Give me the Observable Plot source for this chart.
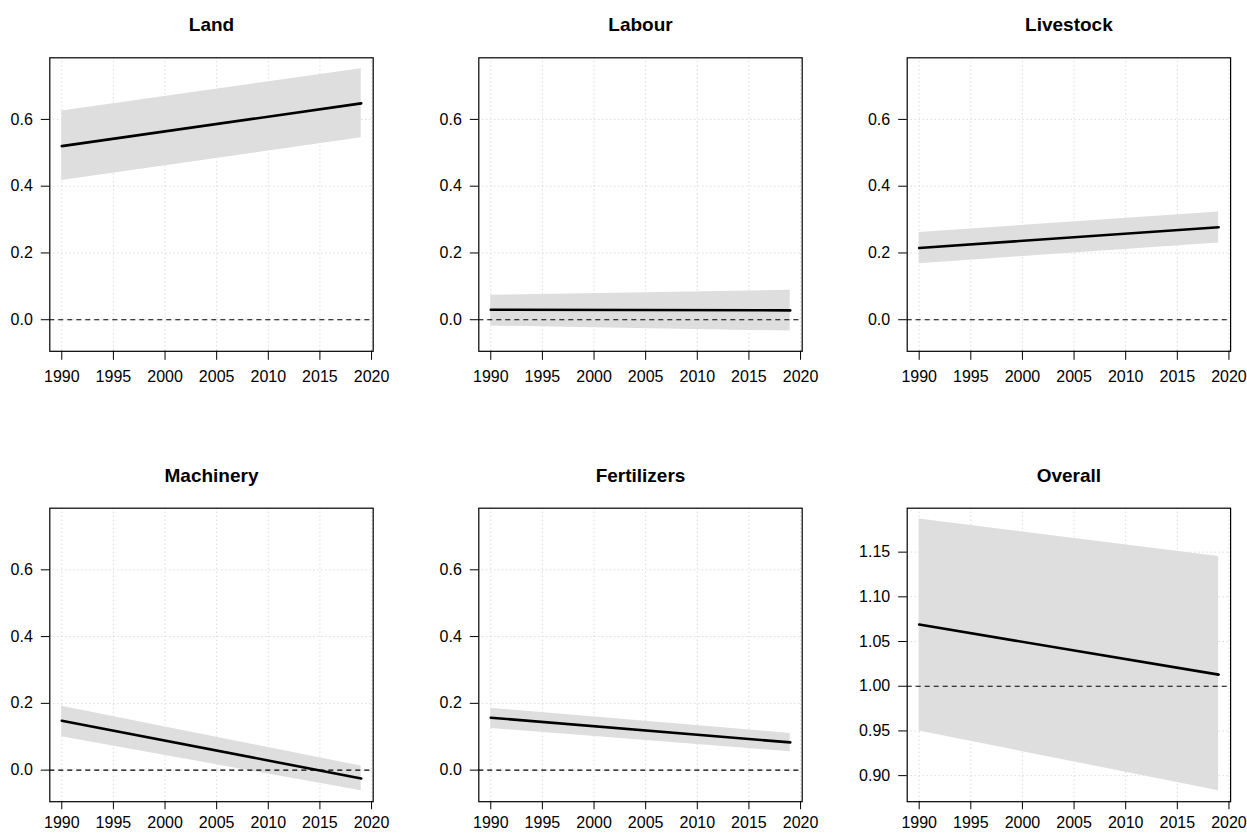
<!DOCTYPE html>
<html><head><meta charset="utf-8">
<script src="https://cdn.jsdelivr.net/npm/d3@7"></script>
<script src="https://cdn.jsdelivr.net/npm/@observablehq/plot@0.6"></script>
<style>
html,body{margin:0;padding:0;background:#fff;overflow:hidden;}
#chart{position:relative;width:1247px;height:833px;overflow:hidden;background:#fff;}
#chart svg{position:absolute;left:0;top:0;}
</style></head><body><div id="chart"></div>
<script>
// ---- data ----
const panels = ["Land", "Labour", "Livestock", "Machinery", "Fertilizers", "Overall"];
const years = [1990, 2019];
const fitValues = {
  Land: [0.520, 0.648],
  Labour: [0.030, 0.028],
  Livestock: [0.215, 0.277],
  Machinery: [0.148, -0.025],
  Fertilizers: [0.157, 0.083],
  Overall: [1.069, 1.013]
};
const lowerValues = {
  Land: [0.417, 0.545],
  Labour: [-0.019, -0.034],
  Livestock: [0.168, 0.230],
  Machinery: [0.100, -0.062],
  Fertilizers: [0.125, 0.055],
  Overall: [0.950, 0.883]
};
const upperValues = {
  Land: [0.625, 0.752],
  Labour: [0.073, 0.088],
  Livestock: [0.261, 0.323],
  Machinery: [0.191, 0.012],
  Fertilizers: [0.185, 0.110],
  Overall: [1.187, 1.145]
};
const refValues = {Land: 0, Labour: 0, Livestock: 0, Machinery: 0, Fertilizers: 0, Overall: 1};
const xTicks = [1990, 1995, 2000, 2005, 2010, 2015, 2020];
const yTicksShared = [0.0, 0.2, 0.4, 0.6];
const yTicksOverall = [0.90, 0.95, 1.00, 1.05, 1.10, 1.15];

// ---- layout ----
const W = 1247, H = 833;
const colLeft = [49.3, 478.3, 906.7];
const rowTop = [57.3, 507.7];
const boxW = 323.4, boxH = 293.5;

function rExtend([a, b]) { const d = (b - a) * 0.04; return [a - d, b + d]; }
const sharedPanels = panels.slice(0, 5);
const sharedDomain = rExtend([
  d3.min(sharedPanels, p => d3.min(lowerValues[p])),
  d3.max(sharedPanels, p => d3.max(upperValues[p]))
]);
const overallDomain = rExtend([d3.min(lowerValues.Overall), d3.max(upperValues.Overall)]);
const xDomain = rExtend(d3.extent(years));

const chart = document.getElementById("chart");
const font = "'Liberation Sans', Arial, Helvetica, sans-serif";

panels.forEach((p, i) => {
  const col = i % 3, row = Math.floor(i / 3);
  const left = colLeft[col], top = rowTop[row];
  const data = years.map((yr, k) => ({year: yr, fit: fitValues[p][k], lo: lowerValues[p][k], hi: upperValues[p][k]}));
  const isOverall = p === "Overall";
  const yTicks = isOverall ? yTicksOverall : yTicksShared;
  const fmt = isOverall ? d3.format(".2f") : d3.format(".1f");
  const xTickSize = row === 0 ? 9 : 8;
  const xTickPad = row === 0 ? 10 : 6.5;
  const svg = Plot.plot({
    width: W, height: H,
    marginLeft: left, marginRight: W - left - boxW,
    marginTop: top, marginBottom: H - top - boxH,
    style: {background: "transparent", color: "#000", fontFamily: font, fontSize: "16px", overflow: "visible"},
    x: {domain: xDomain},
    y: {domain: isOverall ? overallDomain : sharedDomain},
    marks: [
      Plot.gridX(xTicks, {stroke: "#cccccc", strokeOpacity: 1, strokeDasharray: "1,3"}),
      Plot.gridY(yTicks, {stroke: "#cccccc", strokeOpacity: 1, strokeDasharray: "1,3"}),
      Plot.areaY(data, {x: "year", y1: "lo", y2: "hi", fill: "#dedede", fillOpacity: 1}),
      Plot.ruleY([refValues[p]], {stroke: "#000", strokeWidth: 1.1, strokeDasharray: "5,4"}),
      Plot.lineY(data, {x: "year", y: "fit", stroke: "#000", strokeWidth: 2.6}),
      Plot.frame({stroke: "#000", strokeWidth: 1.2}),
      Plot.axisX(xTicks, {label: null, tickSize: xTickSize, tickPadding: xTickPad, fontSize: 16, fontFamily: font, tickFormat: d => String(d)}),
      Plot.axisY(yTicks, {label: null, tickSize: 8.5, tickPadding: 8.5, fontSize: 16, fontFamily: font, tickFormat: fmt}),
      Plot.text([p], {frameAnchor: "top", lineAnchor: "bottom", dy: -26.6, fontWeight: "bold", fontSize: 19, fontFamily: font, fill: "#000"})
    ]
  });
  chart.appendChild(svg);
});
</script></body></html>
